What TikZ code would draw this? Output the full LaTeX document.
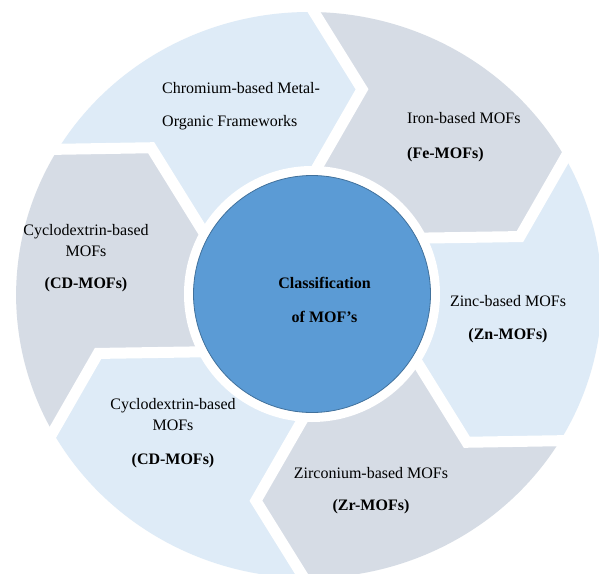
\documentclass[tikz,border=0pt]{standalone}
\usepackage{fontspec}
\setmainfont{Liberation Serif}
\usetikzlibrary{calc}

\definecolor{segblue}{HTML}{DEEBF7}
\definecolor{seggray}{HTML}{D6DCE5}
\definecolor{hubfill}{HTML}{5B9BD5}
\definecolor{hubedge}{HTML}{41719C}

\tikzstyle{gapline}=[draw=white, line width=11pt, line join=miter]
\tikzstyle{hub}=[circle, draw=hubedge, fill=hubfill, line width=0.8pt,
                minimum size=237pt, inner sep=0]
\tikzstyle{seglabel}=[inner sep=0, font=\fontsize{16pt}{19pt}\selectfont]

\begin{document}
\begin{tikzpicture}[x=1pt,y=1pt]
\useasboundingbox (-309,-278) rectangle (290,295);
\clip (-309,-278) rectangle (290,295);
\fill[white] (-309,-278) rectangle (290,295);

% ring of six chevron blocks, a bit wider than tall
\begin{scope}[xscale=1.035]
\foreach \a/\col in {136/segblue,76/seggray,16/segblue,-44/seggray,-104/segblue,-164/seggray}{
  \pgfmathsetmacro\b{\a-60}
  \fill[\col] (\a+13:283pt) arc[start angle=\a+13, end angle=\b+13, radius=283pt]
    -- (\b:212pt) -- (\b+15:110pt) arc[start angle=\b+15, end angle=\a+15, radius=110pt]
    -- (\a:212pt) -- cycle;
}
% white gaps between the blocks
\foreach \a in {136,76,16,-44,-104,-164}
  \draw[gapline] ($(\a:212pt)+(\a+45:125pt)$) -- (\a:212pt) -- (\a+15:110pt);
\end{scope}

% centre circle with its white rim
\fill[white] (3,1) circle[radius=128pt];
\node[hub] (hub) at (3,1) {};
\node[seglabel, align=center] (hubtext) at (15.5,-5)
  {\textbf{Classification}\\[15pt]\textbf{of MOF’s}};

% labels, clockwise from the top
\node[seglabel, anchor=west, align=left] (cr) at (-147,188.5)
  {Chromium-based Metal-\\[13.8pt]Organic Frameworks};
\node[seglabel, anchor=west, align=left] (fe) at (98,157.5)
  {Iron-based MOFs\\[16pt]\textbf{(Fe-MOFs)}};
\node[seglabel, align=center] (zn) at (199,-24.5)
  {Zinc-based MOFs\\[14pt]\textbf{(Zn-MOFs)}};
\node[seglabel, align=center] (zr) at (62,-196)
  {Zirconium-based MOFs\\[13pt]\textbf{(Zr-MOFs)}};
\node[seglabel, align=center] (cdlow) at (-136,-138)
  {Cyclodextrin-based\\[2.5pt]MOFs\\[15pt]\textbf{(CD-MOFs)}};
\node[seglabel, align=center] (cdup) at (-223,36.5)
  {Cyclodextrin-based\\[2pt]MOFs\\[13pt]\textbf{(CD-MOFs)}};
\end{tikzpicture}
\end{document}
